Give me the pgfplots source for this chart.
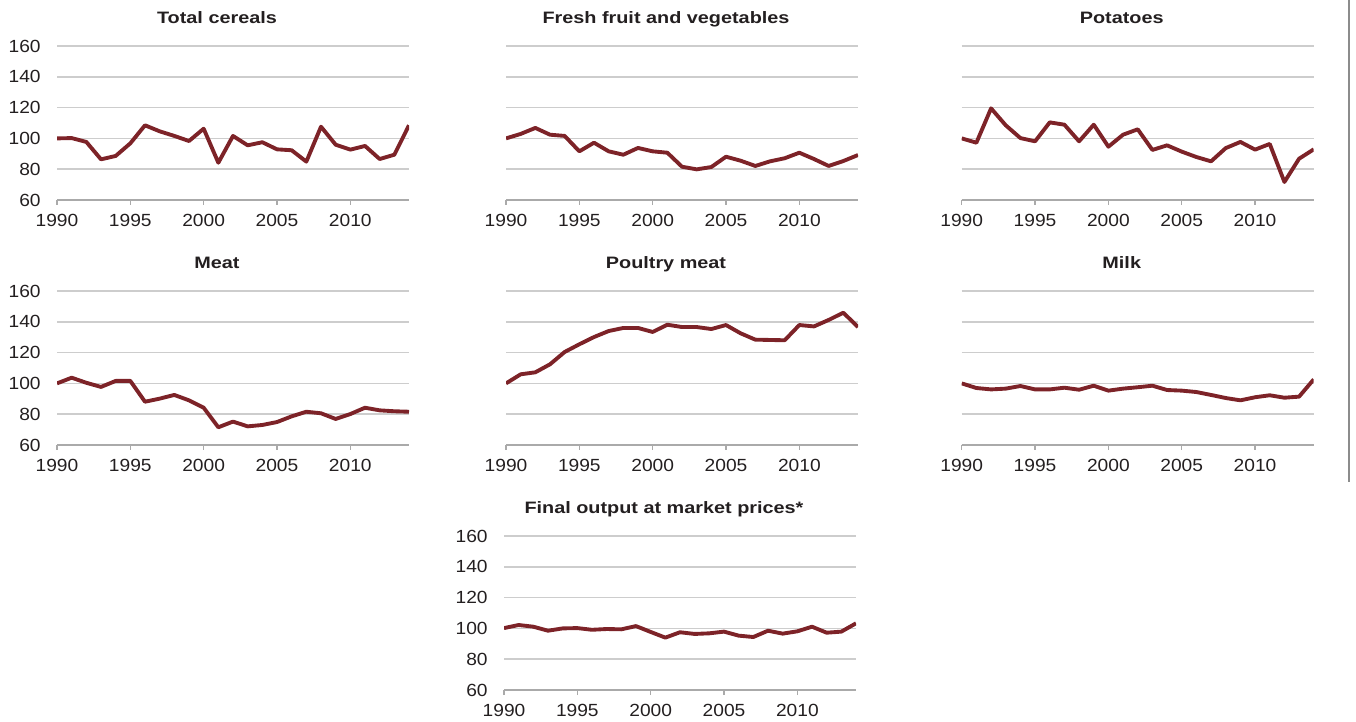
\documentclass[border=0pt]{standalone}
\usepackage{fontspec}
\setmainfont{Liberation Sans}[FakeStretch=1.09]
\newfontfamily\tfont{Liberation Sans}[FakeStretch=1.2]
\usepackage{pgfplots}
\usepackage{pgfplotstable}
\pgfplotsset{compat=1.18}
\definecolor{sercol}{RGB}{125,35,40}
\definecolor{gridc}{RGB}{205,205,205}
\definecolor{axc}{RGB}{170,170,170}
\definecolor{txt}{RGB}{35,31,32}

\pgfplotstableread{
year cer fruit pot meat poul milk fin
1990 100 100 100 100 100 100 100.2
1991 100.2 102.9 97.2 103.7 105.9 97.0 102.2
1992 97.7 106.8 119.5 100.4 107.2 96.1 101.1
1993 86.4 102.4 108.5 97.7 112.4 96.6 98.5
1994 88.6 101.6 100.2 101.6 120.4 98.3 100.0
1995 96.8 91.6 98.1 101.6 125.4 96.1 100.2
1996 108.5 97.2 110.4 88.1 130.1 96.1 99.1
1997 104.6 91.6 108.9 90.1 134.0 97.2 99.6
1998 101.6 89.4 98.1 92.5 136.0 95.9 99.4
1999 98.3 93.8 108.9 89.0 136.0 98.5 101.5
2000 106.3 91.6 94.6 84.2 133.4 95.3 97.7
2001 84.2 90.7 102.4 71.5 138.1 96.6 94.0
2002 101.6 81.6 105.9 75.2 136.6 97.5 97.5
2003 95.5 79.9 92.5 72.1 136.6 98.5 96.4
2004 97.5 81.4 95.5 73.0 135.3 95.7 96.8
2005 92.9 88.1 91.4 74.9 137.9 95.3 97.9
2006 92.3 85.5 87.9 78.6 132.5 94.4 95.3
2007 84.9 82.1 85.1 81.6 128.4 92.5 94.4
2008 107.6 85.1 93.7 80.6 128.2 90.5 98.5
2009 95.9 87.1 97.7 76.9 128.0 89.0 96.6
2010 92.7 90.7 92.7 80.1 137.9 91.0 98.1
2011 95.1 86.6 96.4 84.2 137.0 92.3 101.1
2012 86.6 82.1 71.7 82.5 141.2 90.7 97.2
2013 89.4 85.3 86.8 81.9 145.9 91.4 97.9
2014 108.5 89.2 92.9 81.6 136.6 102.6 103.3
}\data

\pgfplotsset{
  panel/.style={
    scale only axis, width=264pt, height=115.5pt,
    anchor=south west,
    xmin=1990, xmax=2014, ymin=60, ymax=160,
    xtick={1990,1995,2000,2005,2010},
    xticklabels={1990,1995,2000,2005,2010},
    ytick={60,80,100,120,140,160},
    yticklabels={60,80,100,120,140,160},
    ymajorgrids,
    grid style={gridc, line width=1.1pt},
    axis x line*=bottom,
    axis y line*=left,
    y axis line style={draw=none},
    x axis line style={axc, line width=1.1pt, -},
    xtick style={axc, line width=1.1pt},
    ytick style={draw=none},
    tick align=outside,
    major tick length=3.75pt,
    ticklabel style={font=\fontsize{13.2}{15}\selectfont, text=txt},
    xticklabel style={yshift=-3.5pt},
    yticklabel style={xshift=-5pt},
    title style={font=\tfont\bfseries\fontsize{12.4}{15}\selectfont, text=txt,
      at={(0.5,1)}, anchor=base, xshift=-12pt, yshift=10.5pt},
  },
  noy/.style={yticklabels={}},
  ser/.style={color=sercol, line width=2.9pt, line join=round, mark=none},
}

\begin{document}
\begin{tikzpicture}
\useasboundingbox (0,0) rectangle (1017pt,540.75pt);

\begin{axis}[panel, at={(42.75pt,390.75pt)}, title={Total cereals}]
\addplot[ser] table[x=year,y=cer]{\data};
\end{axis}
\begin{axis}[panel, noy, at={(379.5pt,390.75pt)}, title={Fresh fruit and vegetables}]
\addplot[ser] table[x=year,y=fruit]{\data};
\end{axis}
\begin{axis}[panel, noy, at={(721.3pt,390.75pt)}, title={Potatoes}]
\addplot[ser] table[x=year,y=pot]{\data};
\end{axis}

\begin{axis}[panel, at={(42.75pt,207pt)}, title={Meat}]
\addplot[ser] table[x=year,y=meat]{\data};
\end{axis}
\begin{axis}[panel, noy, at={(379.5pt,207pt)}, title={Poultry meat}]
\addplot[ser] table[x=year,y=poul]{\data};
\end{axis}
\begin{axis}[panel, noy, at={(721.3pt,207pt)}, title={Milk}]
\addplot[ser] table[x=year,y=milk]{\data};
\end{axis}

\begin{axis}[panel, at={(378pt,23.25pt)}, title={Final output at market prices*}]
\addplot[ser] table[x=year,y=fin]{\data};
\end{axis}

\draw[color={rgb,255:red,140;green,140;blue,140}, line width=1.4pt] (1011.75pt,540.75pt) -- (1011.75pt,179.25pt);
\end{tikzpicture}
\end{document}
